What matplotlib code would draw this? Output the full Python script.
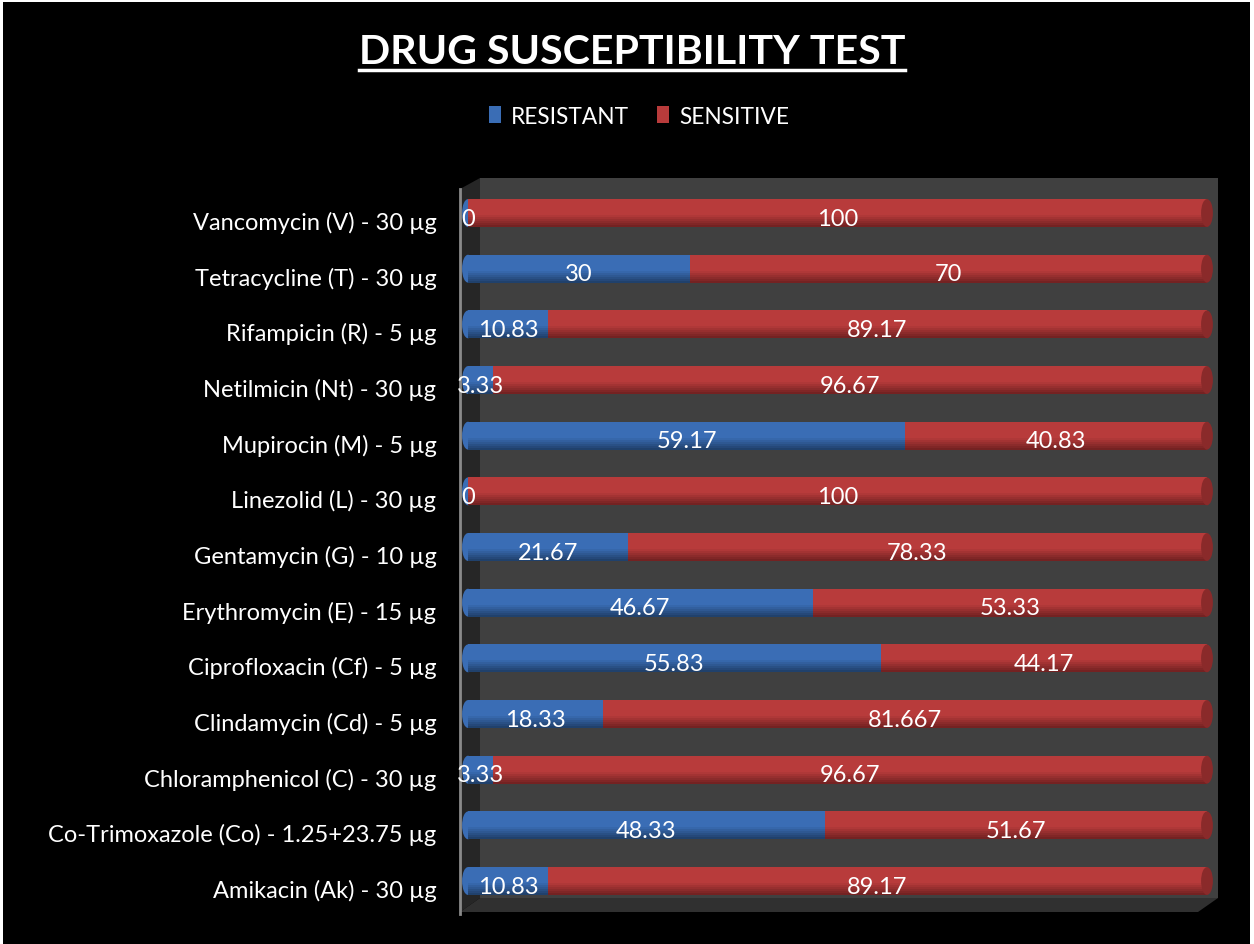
import matplotlib
matplotlib.use("Agg")
import matplotlib.pyplot as plt
from matplotlib.patches import Polygon, Rectangle, Ellipse
from matplotlib.lines import Line2D
from matplotlib.transforms import ScaledTranslation
import numpy as np

drugs = [
    "Vancomycin (V) - 30 \u00b5g",
    "Tetracycline (T) - 30 \u00b5g",
    "Rifampicin (R) - 5 \u00b5g",
    "Netilmicin (Nt) - 30 \u00b5g",
    "Mupirocin (M) - 5 \u00b5g",
    "Linezolid (L) - 30 \u00b5g",
    "Gentamycin (G) - 10 \u00b5g",
    "Erythromycin (E) - 15 \u00b5g",
    "Ciprofloxacin (Cf) - 5 \u00b5g",
    "Clindamycin (Cd) - 5 \u00b5g",
    "Chloramphenicol (C) - 30 \u00b5g",
    "Co-Trimoxazole (Co) - 1.25+23.75 \u00b5g",
    "Amikacin (Ak) - 30 \u00b5g",
]
resistant = [0, 30, 10.83, 3.33, 59.17, 0, 21.67, 46.67, 55.83, 18.33, 3.33, 48.33, 10.83]
sensitive = [100, 70, 89.17, 96.67, 40.83, 100, 78.33, 53.33, 44.17, 81.667, 96.67, 51.67, 89.17]
resistant_labels = ["0", "30", "10.83", "3.33", "59.17", "0", "21.67", "46.67", "55.83", "18.33", "3.33", "48.33", "10.83"]
sensitive_labels = ["100", "70", "89.17", "96.67", "40.83", "100", "78.33", "53.33", "44.17", "81.667", "96.67", "51.67", "89.17"]
series_names = ["RESISTANT", "SENSITIVE"]

FONT = "Lato"
W, H = 1254, 945
fig = plt.figure(figsize=(W / 100, H / 100), dpi=100, facecolor="white")
# black chart area with thin white border
fig.patches.append(Rectangle((3 / W, 0), (1250 - 3) / W, (H - 3) / H, transform=fig.transFigure,
                             facecolor="black", edgecolor="none", zorder=-5))

L, R, T, B = 460, 1218, 179, 913
ax = fig.add_axes([L / W, 1 - B / H, (R - L) / W, (B - T) / H])
ax.set_facecolor("none")
ax.set_zorder(2)

def pa(x, y):
    return ((x - L) / (R - L), (B - y) / (B - T))

# 3D walls
ax.add_patch(Polygon([pa(480, 179), pa(1218, 179), pa(1218, 899), pa(480, 899)], closed=True,
                     transform=ax.transAxes, facecolor="#404040", edgecolor="none", zorder=0))
ax.add_patch(Polygon([pa(460, 190), pa(480, 179), pa(480, 899), pa(460, 913)], closed=True,
                     transform=ax.transAxes, facecolor="#262626", edgecolor="none", zorder=0))
ax.add_patch(Polygon([pa(480, 899), pa(1218, 899), pa(1198, 913), pa(460, 913)], closed=True,
                     transform=ax.transAxes, facecolor="#303030", edgecolor="none", zorder=0))
ax.add_line(Line2D([pa(460, 190)[0]] * 2, [pa(0, 190)[1], pa(0, 915)[1]], transform=ax.transAxes,
                   color="#8a8a8a", lw=2, clip_on=False, zorder=1))

n = len(drugs)
ypos = np.arange(n)[::-1]  # first drug at top
bh = 0.5

def shade(base, dark, nstrip=14):
    base = np.array(matplotlib.colors.to_rgb(base))
    dark = np.array(matplotlib.colors.to_rgb(dark))
    cols = []
    for j in range(nstrip):
        f = (j + 0.5) / nstrip  # 0 bottom, 1 top
        if f < 0.45:
            t = (0.45 - f) / 0.45
            cols.append(base * (1 - t) + dark * t)
        else:
            cols.append(base)
    return cols

blue_cols = shade("#3a6db5", "#1e3d66")
red_cols = shade("#b83b3b", "#6e2020")
ns = len(blue_cols)

for cols, left, width in ((blue_cols, np.zeros(n), np.array(resistant)),
                          (red_cols, np.array(resistant), np.array(sensitive))):
    for j, c in enumerate(cols):
        yc = ypos - bh / 2 + (j + 0.5) * bh / ns
        ax.barh(yc, width, left=left, height=bh / ns * 1.02, color=np.clip(c, 0, 1),
                edgecolor="none", zorder=3)

# end caps of cylinders
totals = np.array(resistant) + np.array(sensitive)
for y, tot in zip(ypos, totals):
    ax.add_patch(Ellipse((tot, y), width=1.6, height=bh, facecolor="#8a2a2a", edgecolor="none", zorder=4))
for y, r in zip(ypos, resistant):
    ax.add_patch(Ellipse((0, y), width=1.6, height=bh, facecolor="#3a6db5", edgecolor="none", zorder=2))

# data labels
for y, r, s, rl, sl in zip(ypos, resistant, sensitive, resistant_labels, sensitive_labels):
    ax.text(r / 2, y - 0.09, rl, ha="center", va="center", color="white", fontsize=17,
            family=FONT, zorder=6)
    ax.text(r + s / 2, y - 0.09, sl, ha="center", va="center", color="white", fontsize=17,
            family=FONT, zorder=6)

ax.set_xlim(-1.08, 101.49)
ax.set_ylim(-0.557, 12.629)
ax.set_yticks(ypos)
ax.set_yticklabels(drugs, fontsize=17, color="white", family=FONT)
ax.tick_params(axis="y", length=0, pad=17)
for lab in ax.get_yticklabels():
    lab.set_transform(lab.get_transform() + ScaledTranslation(0, -7 / 100, fig.dpi_scale_trans))
ax.set_xticks([])
for sp in ax.spines.values():
    sp.set_visible(False)

# title
title = fig.text(632 / W, 1 - 52 / H, "DRUG SUSCEPTIBILITY TEST", ha="center", va="center",
                 color="white", fontsize=29.6, fontweight="bold", family=FONT)
fig.canvas.draw()
bb = title.get_window_extent()
fig.add_artist(Line2D([bb.x0 / W, bb.x1 / W], [1 - 71 / H] * 2, transform=fig.transFigure,
                      color="white", lw=2.5))

# legend
handles = [Rectangle((0, 0), 1, 1, facecolor="#3a6db5", edgecolor="none"),
           Rectangle((0, 0), 1, 1, facecolor="#b83b3b", edgecolor="none")]
leg = fig.legend(handles, series_names, loc="center", bbox_to_anchor=(639 / W, 1 - 117 / H),
                 ncol=2, frameon=False, handlelength=0.55, handleheight=0.8,
                 handletextpad=0.45, columnspacing=1.2, prop={"family": FONT, "size": 16.3})
for t in leg.get_texts():
    t.set_color("white")

fig.savefig("out.png", dpi=100, facecolor="white")
